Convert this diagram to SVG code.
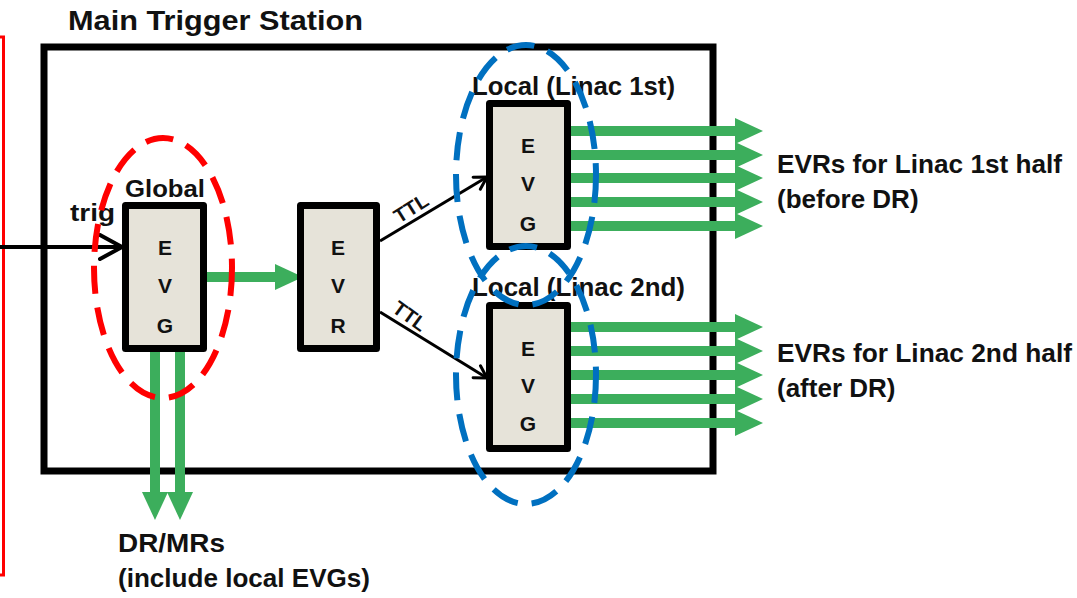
<svg xmlns="http://www.w3.org/2000/svg" width="1077" height="598" viewBox="0 0 1077 598">
<style>
text{font-family:"Liberation Sans",Arial,sans-serif;font-weight:bold;fill:#111}
.box{fill:#e6e3d9;stroke:#000;stroke-width:7;stroke-linejoin:round}
.ltr{font-size:21px;text-anchor:middle}
.lbl{font-size:26px}
.g{stroke:#3cae5c;stroke-width:10;fill:none}
.blk{stroke:#000;fill:none}
.ell{fill:none;stroke-width:6;stroke-dasharray:28 14}
</style>
<defs>
<marker id="ga" markerUnits="userSpaceOnUse" markerWidth="28" markerHeight="26" viewBox="0 0 28 26" refX="2" refY="13" orient="auto"><path d="M0,0 L28,13 L0,26 Z" fill="#3cae5c"/></marker>
<marker id="ka" markerUnits="userSpaceOnUse" markerWidth="26" markerHeight="28" viewBox="-2 -2 26 28" refX="22" refY="12" orient="auto"><path d="M0,0 L22,12 L0,24" fill="none" stroke="#000" stroke-width="4" stroke-linecap="round" stroke-linejoin="round"/></marker>
<marker id="ks" markerUnits="userSpaceOnUse" markerWidth="16" markerHeight="18" viewBox="-2 -2 16 18" refX="12" refY="7" orient="auto"><path d="M0,0 L12,7 L0,14" fill="none" stroke="#000" stroke-width="3" stroke-linecap="round" stroke-linejoin="round"/></marker>
</defs>
<g id="outer-frame"><rect x="-10" y="37" width="13.5" height="538" fill="none" stroke="#ff0000" stroke-width="3"/></g>
<g id="main-station">
<rect x="44" y="47" width="669" height="424" fill="none" stroke="#000" stroke-width="7"/>
<text x="68" y="30" font-size="28" textLength="295" lengthAdjust="spacingAndGlyphs">Main Trigger Station</text>
</g>
<g id="connectors">
<line x1="0" y1="247" x2="122" y2="247" class="blk" stroke-width="4" marker-end="url(#ka)"/>
<line x1="207" y1="277" x2="277" y2="277" class="g" stroke-width="12" marker-end="url(#ga)"/>
<line x1="380" y1="241" x2="487" y2="177" class="blk" stroke-width="3" marker-end="url(#ks)"/>
<line x1="380" y1="312" x2="487" y2="378" class="blk" stroke-width="3" marker-end="url(#ks)"/>
<line x1="155" y1="352" x2="155" y2="494" class="g" marker-end="url(#ga)"/>
<line x1="180" y1="352" x2="180" y2="494" class="g" marker-end="url(#ga)"/>
<g class="g">
<line x1="571" y1="131" x2="737" y2="131" marker-end="url(#ga)"/>
<line x1="571" y1="155" x2="737" y2="155" marker-end="url(#ga)"/>
<line x1="571" y1="178" x2="737" y2="178" marker-end="url(#ga)"/>
<line x1="571" y1="202" x2="737" y2="202" marker-end="url(#ga)"/>
<line x1="571" y1="226" x2="737" y2="226" marker-end="url(#ga)"/>
<line x1="571" y1="327" x2="737" y2="327" marker-end="url(#ga)"/>
<line x1="571" y1="351" x2="737" y2="351" marker-end="url(#ga)"/>
<line x1="571" y1="375" x2="737" y2="375" marker-end="url(#ga)"/>
<line x1="571" y1="399" x2="737" y2="399" marker-end="url(#ga)"/>
<line x1="571" y1="423" x2="737" y2="423" marker-end="url(#ga)"/>
</g>
<text x="70" y="221" font-size="24" textLength="45" lengthAdjust="spacingAndGlyphs">trig</text>
<text transform="translate(411,208) rotate(-32)" x="0" y="7" font-size="20" text-anchor="middle">TTL</text>
<text transform="translate(410,316) rotate(36)" x="0" y="7" font-size="20" text-anchor="middle">TTL</text>
</g>
<g id="global-evg">
<text x="125" y="197" font-size="24" textLength="80" lengthAdjust="spacingAndGlyphs">Global</text>
<rect class="box" x="125.5" y="205.5" width="78" height="143"/>
<text class="ltr" x="165" y="255">E</text><text class="ltr" x="165" y="293">V</text><text class="ltr" x="165" y="333">G</text>
</g>
<g id="evr">
<rect class="box" x="300.5" y="205.5" width="76" height="143"/>
<text class="ltr" x="338" y="255">E</text><text class="ltr" x="338" y="293">V</text><text class="ltr" x="338" y="333">R</text>
</g>
<g id="local-evg-1">
<text x="472" y="95" font-size="25" textLength="203" lengthAdjust="spacingAndGlyphs">Local (Linac 1st)</text>
<rect class="box" x="489.5" y="103.5" width="78" height="143"/>
<text class="ltr" x="528" y="153">E</text><text class="ltr" x="528" y="191">V</text><text class="ltr" x="528" y="231">G</text>
</g>
<g id="local-evg-2">
<text x="472" y="296" font-size="25" textLength="213" lengthAdjust="spacingAndGlyphs">Local (Linac 2nd)</text>
<rect class="box" x="489.5" y="305.5" width="78" height="143"/>
<text class="ltr" x="528" y="356">E</text><text class="ltr" x="528" y="393">V</text><text class="ltr" x="528" y="431">G</text>
</g>
<g id="groupings">
<ellipse class="ell" cx="163" cy="268" rx="69" ry="130" stroke="#ff0000"/>
<ellipse class="ell" cx="526" cy="175" rx="70" ry="130" stroke="#0070c0"/>
<ellipse class="ell" cx="526" cy="375" rx="70" ry="129" stroke="#0070c0"/>
</g>
<g id="labels">
<text class="lbl" x="777" y="173" textLength="285" lengthAdjust="spacingAndGlyphs">EVRs for Linac 1st half</text>
<text class="lbl" x="777" y="208">(before DR)</text>
<text class="lbl" x="777" y="362" textLength="295" lengthAdjust="spacingAndGlyphs">EVRs for Linac 2nd half</text>
<text class="lbl" x="777" y="397">(after DR)</text>
<text class="lbl" x="118" y="552" textLength="107" lengthAdjust="spacingAndGlyphs">DR/MRs</text>
<text class="lbl" x="118" y="587" textLength="252" lengthAdjust="spacingAndGlyphs">(include local EVGs)</text>
</g>
</svg>
